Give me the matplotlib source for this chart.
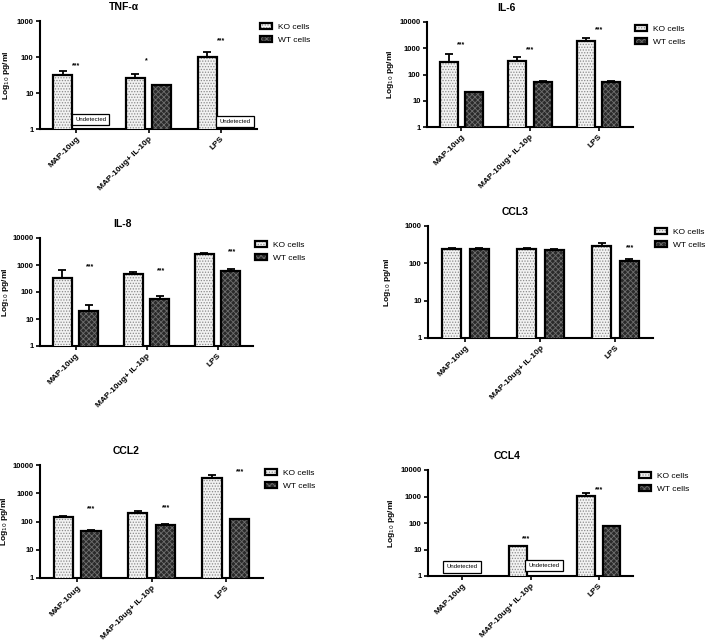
import numpy as np
import matplotlib
matplotlib.use("Agg")
import matplotlib.pyplot as plt
from matplotlib.patches import Patch
from matplotlib.legend_handler import HandlerTuple

plt.rcParams['font.family'] = ['Liberation Sans', 'DejaVu Sans']
plt.rcParams['hatch.linewidth'] = 0.6

nan = np.nan

# 數據
categories = ["MAP-10ug", "MAP-10ug+ IL-10p", "LPS"]
groups = ["KO cells", "WT cells"]

tnf_ko = [32, 25.5, 101]
tnf_ko_top = [40, 34, 134]
tnf_wt = [nan, 17, nan]
tnf_wt_top = [nan, 17, nan]
tnf_stars = ["***", "*", "***"]
tnf_star_y = [56, 77, 280]

il6_ko = [288, 315, 1820]
il6_ko_top = [580, 445, 2450]
il6_wt = [21, 51, 54]
il6_wt_top = [21.5, 57, 57]
il6_stars = ["***", "***", "***"]
il6_star_y = [1400, 850, 4900]

il8_ko = [343, 455, 2620]
il8_ko_top = [660, 540, 2700]
il8_wt = [19.6, 56, 605]
il8_wt_top = [34, 69, 690]
il8_stars = ["***", "***", "***"]
il8_star_y = [830, 620, 3000]

ccl3_ko = [241, 241, 285]
ccl3_ko_top = [255, 265, 345]
ccl3_wt = [241, 232, 115]
ccl3_wt_top = [250, 241, 133]
ccl3_stars = ["", "", "***"]
ccl3_star_y = [nan, nan, 257]

ccl2_ko = [150, 192, 3550]
ccl2_ko_top = [157, 228, 4550]
ccl2_wt = [45, 78, 121]
ccl2_wt_top = [49, 82, 124]
ccl2_stars = ["***", "***", "***"]
ccl2_star_y = [282, 310, 5600]

ccl4_ko = [nan, 13.3, 1010]
ccl4_ko_top = [nan, 13.3, 1320]
ccl4_wt = [nan, nan, 74]
ccl4_wt_top = [nan, nan, 77]
ccl4_stars = ["", "***", "***"]
ccl4_star_y = [nan, 24.5, 1750]

# 未檢出標記 (類別索引, y 值)
tnf_undetected = [(0, 1.85), (2, 1.62)]
ccl4_undetected = [(0, 2.2), (1, 2.5)]

panels = [
    dict(title="TNF-α", ko=tnf_ko, ko_top=tnf_ko_top, wt=tnf_wt, wt_top=tnf_wt_top,
         stars=tnf_stars, star_y=tnf_star_y, star_dx=[0, -0.03, 0], ymax=1000,
         und=tnf_undetected, und_dx=[0.2, 0.2],
         rect=[40, 21, 257, 129], leg=(260, 23), ylab_x=12),
    dict(title="IL-6", ko=il6_ko, ko_top=il6_ko_top, wt=il6_wt, wt_top=il6_wt_top,
         stars=il6_stars, star_y=il6_star_y, star_dx=[0, 0, 0], ymax=10000,
         und=[], und_dx=[],
         rect=[427, 22, 633, 127], leg=(635, 25), ylab_x=396),
    dict(title="IL-8", ko=il8_ko, ko_top=il8_ko_top, wt=il8_wt, wt_top=il8_wt_top,
         stars=il8_stars, star_y=il8_star_y, star_dx=[0.2, 0.2, 0.2], ymax=10000,
         und=[], und_dx=[],
         rect=[40, 238, 253, 346], leg=(255, 241), ylab_x=11),
    dict(title="CCL3", ko=ccl3_ko, ko_top=ccl3_ko_top, wt=ccl3_wt, wt_top=ccl3_wt_top,
         stars=ccl3_stars, star_y=ccl3_star_y, star_dx=[0.19, 0.19, 0.19], ymax=1000,
         und=[], und_dx=[],
         rect=[428, 226, 653, 338], leg=(655, 228), ylab_x=393),
    dict(title="CCL2", ko=ccl2_ko, ko_top=ccl2_ko_top, wt=ccl2_wt, wt_top=ccl2_wt_top,
         stars=ccl2_stars, star_y=ccl2_star_y, star_dx=[0.19, 0.19, 0.19], ymax=10000,
         und=[], und_dx=[],
         rect=[40, 465, 263, 578], leg=(265, 469), ylab_x=10),
    dict(title="CCL4", ko=ccl4_ko, ko_top=ccl4_ko_top, wt=ccl4_wt, wt_top=ccl4_wt_top,
         stars=ccl4_stars, star_y=ccl4_star_y, star_dx=[0, -0.06, 0], ymax=10000,
         und=ccl4_undetected, und_dx=[0.0, 0.2],
         rect=[428, 470, 633, 576], leg=(639, 472), ylab_x=397),
]

W, H = 709, 641
fig = plt.figure(figsize=(W / 100, H / 100), dpi=100)

ko_face, ko_hatch_col, ko_hatch = "#f2f2f2", "#8a8a8a", "......"
wt_face, wt_hatch_col, wt_hatch = "#2a2a2a", "#6e6e6e", "xxxxxx"
width = 0.26
off = 0.185

for p in panels:
    l, t, r, b = p["rect"]
    ax = fig.add_axes([l / W, 1 - b / H, (r - l) / W, (b - t) / H])
    x = np.arange(len(categories))
    ax.set_yscale("log")

    for vals, top, dx, face, hc, hatch in [
        (p["ko"], p["ko_top"], -off, ko_face, ko_hatch_col, ko_hatch),
        (p["wt"], p["wt_top"], off, wt_face, wt_hatch_col, wt_hatch),
    ]:
        vals = np.array(vals, dtype=float)
        top = np.array(top, dtype=float)
        ax.errorbar(x + dx, vals, yerr=[np.zeros_like(vals), top - vals], fmt="none",
                    ecolor="black", elinewidth=1.3, capsize=3, capthick=1.3, zorder=2)
        ax.bar(x + dx, vals, width=width, color=face, edgecolor=hc, hatch=hatch,
               linewidth=0, zorder=3)
        ax.bar(x + dx, vals, width=width, fill=False, edgecolor="black",
               linewidth=1.6, zorder=4)

    for i, s in enumerate(p["stars"]):
        if s:
            ax.text(i + p["star_dx"][i], p["star_y"][i], s, ha="center", va="center",
                    fontsize=5, fontweight="bold")

    for (i, yv), dx in zip(p["und"], p["und_dx"]):
        ax.text(i + dx, yv, "Undetected", ha="center", va="center", fontsize=4.3,
                zorder=6,
                bbox=dict(boxstyle="square,pad=0.55", fc="white", ec="black", lw=0.9))

    ax.set_xlim(-0.5, 2.5)
    ax.set_ylim(1, p["ymax"])
    ticks = [10 ** k for k in range(int(np.log10(p["ymax"])) + 1)]
    ax.set_yticks(ticks)
    ax.set_yticklabels([str(v) for v in ticks])
    ax.yaxis.set_minor_locator(matplotlib.ticker.NullLocator())
    ax.set_xticks(x)
    ax.set_xticklabels(categories, rotation=45, ha="right", rotation_mode="anchor")
    for lab in ax.get_xticklabels():
        lab.set_fontsize(6)
        lab.set_fontweight("bold")
    for lab in ax.get_yticklabels():
        lab.set_fontsize(5.5)
        lab.set_fontweight("bold")
    ax.tick_params(axis="both", length=3, width=1.2, pad=1.5)
    for side in ["top", "right"]:
        ax.spines[side].set_visible(False)
    for side in ["left", "bottom"]:
        ax.spines[side].set_linewidth(1.5)
    ax.set_ylabel("Log$_{10}$ pg/ml", fontsize=6, fontweight="bold")
    ax.yaxis.set_label_coords((p["ylab_x"] - l) / (r - l), 0.5)
    ax.set_title(p["title"], fontsize=7.5, fontweight="bold", x=0.385, pad=8)

    h_ko = (Patch(facecolor=ko_face, edgecolor=ko_hatch_col, hatch=ko_hatch, linewidth=0),
            Patch(fill=False, edgecolor="black", linewidth=1.6))
    h_wt = (Patch(facecolor=wt_face, edgecolor=wt_hatch_col, hatch=wt_hatch, linewidth=0),
            Patch(fill=False, edgecolor="black", linewidth=1.6))
    lx, ly = p["leg"]
    fig.legend([h_ko, h_wt], groups, loc="upper left",
               bbox_to_anchor=(lx / W, 1 - ly / H), bbox_transform=fig.transFigure,
               frameon=False, fontsize=6, handlelength=1.45, handleheight=0.7,
               handletextpad=0.7, labelspacing=0.65, borderpad=0, borderaxespad=0,
               handler_map={tuple: HandlerTuple(ndivide=1, pad=0)})

fig.savefig("out.png", dpi=100)
